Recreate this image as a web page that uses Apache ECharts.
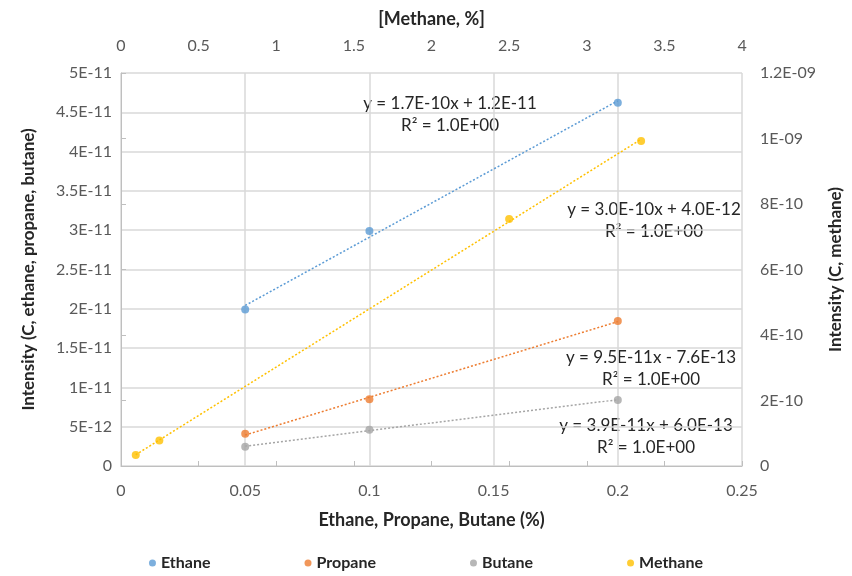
<!DOCTYPE html>
<html>
<head>
<meta charset="utf-8">
<script src="https://cdn.jsdelivr.net/npm/echarts@6/dist/echarts.min.js"></script>
<style>
  html, body { margin: 0; padding: 0; background: #fff; }
  #chartContainer { width: 852px; height: 576px; }
</style>
</head>
<body>
<div id="chartContainer"></div>
<script>
// values
const gasNames = ['Ethane', 'Propane', 'Butane', 'Methane'];
const gasColors = ['#5B9BD5', '#ED7D31', '#A5A5A5', '#FFC000'];

const ethaneX = [0.05, 0.1, 0.2];
const ethaneY = [1.99e-11, 2.99e-11, 4.62e-11];
const propaneX = [0.05, 0.1, 0.2];
const propaneY = [4.1e-12, 8.5e-12, 1.845e-11];
const butaneX = [0.05, 0.1, 0.2];
const butaneY = [2.46e-12, 4.6e-12, 8.4e-12];
const methaneX = [0.095, 0.247, 2.5, 3.35];
const methaneY = [3.36e-11, 7.8e-11, 7.54e-10, 9.92e-10];

const equations = [
    ['y = 1.7E-10x + 1.2E-11', 'R² = 1.0E+00'],
    ['y = 9.5E-11x - 7.6E-13', 'R² = 1.0E+00'],
    ['y = 3.9E-11x + 6.0E-13', 'R² = 1.0E+00'],
    ['y = 3.0E-10x + 4.0E-12', 'R² = 1.0E+00']
];

const FONT = 'Lato, "Noto Sans", sans-serif';

function sciLabel(v) {
    if (Math.abs(v) < 1e-30) return '0';
    let exp = Math.floor(Math.log10(Math.abs(v)) + 1e-9);
    let mant = Math.round(v / Math.pow(10, exp) * 100) / 100;
    if (mant >= 10) { mant = mant / 10; exp += 1; }
    const e = Math.abs(exp);
    return mant + 'E' + (exp < 0 ? '-' : '+') + (e < 10 ? '0' + e : e);
}

// least squares trendline over the data range, like the spreadsheet trendline
function linearFit(xs, ys) {
    const n = xs.length;
    const mx = xs.reduce((a, b) => a + b, 0) / n;
    const my = ys.reduce((a, b) => a + b, 0) / n;
    let sxy = 0, sxx = 0;
    for (let i = 0; i < n; i++) {
        sxy += (xs[i] - mx) * (ys[i] - my);
        sxx += (xs[i] - mx) * (xs[i] - mx);
    }
    const m = sxy / sxx;
    const b = my - m * mx;
    const x0 = Math.min.apply(null, xs), x1 = Math.max.apply(null, xs);
    return [[x0, m * x0 + b], [x1, m * x1 + b]];
}

function pairs(xs, ys) {
    return xs.map((x, i) => [x, ys[i]]);
}

document.addEventListener('DOMContentLoaded', function() {
    const chart = echarts.init(document.getElementById('chartContainer'));

    const sets = [
        [ethaneX, ethaneY], [propaneX, propaneY], [butaneX, butaneY], [methaneX, methaneY]
    ];

    const series = [];
    sets.forEach(function(s, i) {
        const isMethane = i === 3;
        series.push({
            name: gasNames[i] + ' trend',
            type: 'line',
            xAxisIndex: isMethane ? 1 : 0,
            yAxisIndex: isMethane ? 1 : 0,
            data: linearFit(s[0], s[1]),
            showSymbol: false,
            silent: true,
            lineStyle: { color: gasColors[i], width: 1.5, type: [2, 2] },
            z: 2
        });
        series.push({
            name: gasNames[i],
            type: 'scatter',
            xAxisIndex: isMethane ? 1 : 0,
            yAxisIndex: isMethane ? 1 : 0,
            data: pairs(s[0], s[1]),
            symbolSize: 8,
            itemStyle: { color: gasColors[i] },
            z: 3
        });
    });

    // equation label centres (first line)
    const eqPos = [[450, 104], [651, 358], [646, 426], [654, 210]];
    const textEls = equations.map(function(eq, i) {
        return {
            type: 'text', x: eqPos[i][0], y: eqPos[i][1] - 11,
            style: { text: eq[0] + '\n' + eq[1], align: 'center', verticalAlign: 'top', font: '17px ' + FONT, fill: '#262626', lineHeight: 22 }
        };
    });

    const option = {
        animation: false,
        textStyle: { fontFamily: FONT },
        grid: { left: 121, right: 109, top: 73, bottom: 110 },
        legend: {
            bottom: 0, left: 'center',
            data: gasNames,
            icon: 'circle', itemWidth: 7, itemHeight: 7, itemGap: 94,
            textStyle: { fontSize: 16, fontWeight: 'bold', color: '#262626', fontFamily: FONT }
        },
        xAxis: [{
            type: 'value', position: 'bottom',
            min: 0, max: 0.25, interval: 0.05,
            name: 'Ethane, Propane, Butane (%)', nameLocation: 'middle', nameGap: 45,
            nameTextStyle: { fontSize: 18, fontWeight: 'bold', color: '#262626' },
            axisLine: { show: true, lineStyle: { color: '#BFBFBF' } },
            axisTick: { show: false },
            axisLabel: { fontSize: 16, color: '#595959', margin: 17 },
            splitLine: { show: true, lineStyle: { color: '#D9D9D9', width: 1.5 } }
        }, {
            type: 'value', position: 'top',
            min: 0, max: 4, interval: 0.5,
            name: '[Methane, %]', nameLocation: 'middle', nameGap: 45,
            nameTextStyle: { fontSize: 18, fontWeight: 'bold', color: '#262626' },
            axisLine: { show: false },
            axisTick: { show: true, length: 5, lineStyle: { color: '#BFBFBF' } },
            axisLabel: { fontSize: 16, color: '#595959', margin: 19 },
            splitLine: { show: false }
        }],
        yAxis: [{
            type: 'value', position: 'left',
            min: 0, max: 5e-11, interval: 5e-12,
            name: 'Intensity (C, ethane, propane, butane)', nameLocation: 'middle', nameGap: 84,
            nameTextStyle: { fontSize: 17, fontWeight: 'bold', color: '#262626' },
            axisLine: { show: false },
            axisTick: { show: false },
            axisLabel: { fontSize: 16, color: '#595959', margin: 9, formatter: sciLabel },
            splitLine: { show: true, lineStyle: { color: '#D9D9D9', width: 1.5 } }
        }, {
            type: 'value', position: 'right',
            min: 0, max: 1.2e-9, interval: 2e-10,
            name: 'Intensity (C, methane)', nameLocation: 'middle', nameGap: 64,
            nameTextStyle: { fontSize: 17, fontWeight: 'bold', color: '#262626' },
            axisLine: { show: true, lineStyle: { color: '#BFBFBF' } },
            axisTick: { show: true, length: 5, lineStyle: { color: '#BFBFBF' } },
            axisLabel: { fontSize: 16, color: '#595959', margin: 18, formatter: sciLabel },
            splitLine: { show: false }
        }],
        graphic: { elements: textEls },
        series: series
    };

    chart.setOption(option);
});
</script>
</body>
</html>
